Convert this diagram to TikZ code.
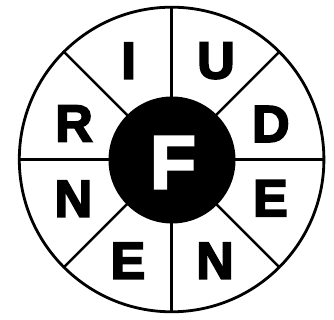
\documentclass[tikz,border=0pt]{standalone}
\usepackage{fontspec}
\newfontfamily\heavy[FakeBold=3.5]{Liberation Sans Bold}
\begin{document}
\begin{tikzpicture}[x=1pt,y=1pt,
  ring/.style={line width=2.8pt},
  spoke/.style={line width=2.6pt},
  letter/.style={font=\heavy\fontsize{52}{52}\selectfont, inner sep=0pt, anchor=center},
  hub/.style={circle, fill=black, minimum size=127pt, inner sep=0pt},
  hubletter/.style={font=\heavy\fontsize{75}{75}\selectfont, text=white, inner sep=0pt}]
\useasboundingbox (0,0) rectangle (334,320);
\coordinate (c) at (171.6,160.5);
\draw[ring] (c) circle[radius=152.3];
\foreach \a in {0,45,...,315}{
  \draw[spoke] (c) -- ++(\a:152.3);
}
\node[hub] (h) at (172,160) {};
\node[hubletter] (f) at (173,157.5) {F};
\node[letter] (i) at (128.6,259.2) {I};
\node[letter] (u) at (216,259.2) {U};
\node[letter] (r) at (74,196.5) {R};
\node[letter] (d) at (270.8,196) {D};
\node[letter] (n1) at (73.4,121.2) {N};
\node[letter] (e1) at (270.5,121.7) {E};
\node[letter] (e2) at (128,59.2) {E};
\node[letter] (n2) at (215,59.2) {N};
\end{tikzpicture}
\end{document}
